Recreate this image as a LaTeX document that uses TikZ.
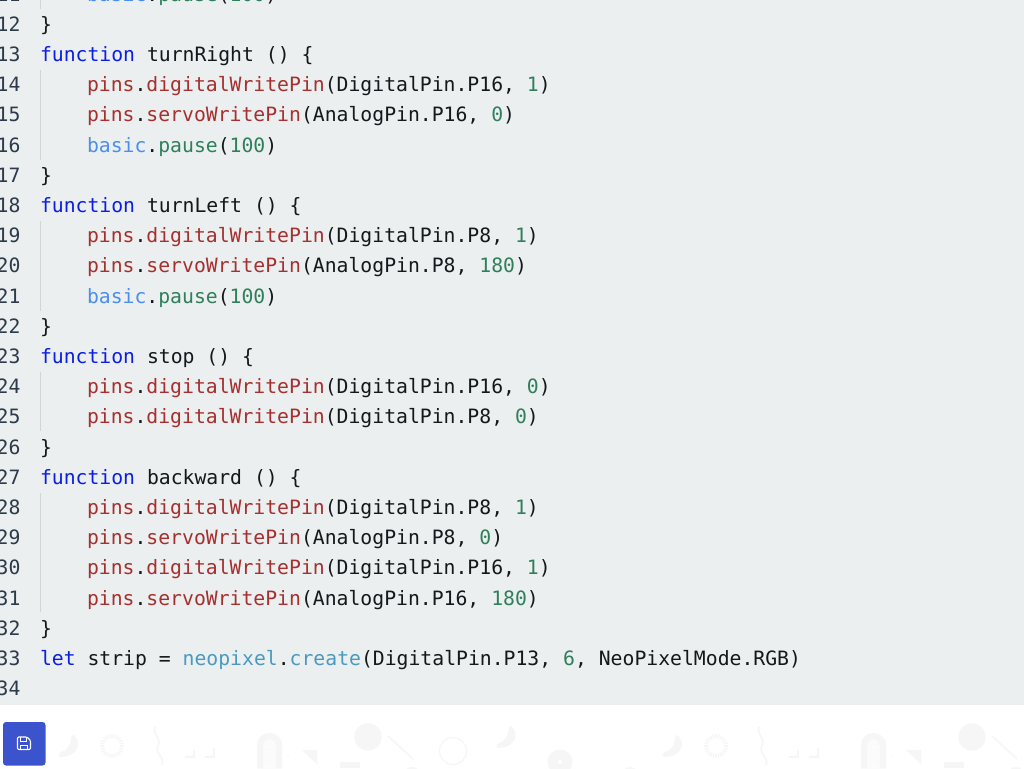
\documentclass[tikz,border=0pt]{standalone}
\usepackage{fontspec}
\setmonofont{DejaVu Sans Mono}
\definecolor{pagebg}{HTML}{ECEFF0}
\definecolor{kw}{HTML}{0B1FE0}
\definecolor{pinc}{HTML}{A5302F}
\definecolor{basicc}{HTML}{4A8FEF}
\definecolor{greenc}{HTML}{2F7F5B}
\definecolor{neoc}{HTML}{4A9ABF}
\definecolor{numc}{HTML}{2C3A4A}
\definecolor{txt}{HTML}{14181C}
\definecolor{guide}{HTML}{D2D4D6}
\definecolor{btn}{HTML}{3B53CD}
\definecolor{wm}{HTML}{F6F6F6}
\definecolor{wmlight}{HTML}{FBFBFB}
\newcommand{\Kw}[1]{\textcolor{kw}{#1}}
\newcommand{\Pn}[1]{\textcolor{pinc}{#1}}
\newcommand{\Ba}[1]{\textcolor{basicc}{#1}}
\newcommand{\Gr}[1]{\textcolor{greenc}{#1}}
\newcommand{\Ne}[1]{\textcolor{neoc}{#1}}
\tikzset{
  code/.style={anchor=base west,inner sep=0pt,outer sep=0pt,text=txt,font=\ttfamily\fontsize{19.75}{20}\selectfont},
  lnum/.style={anchor=base east,inner sep=0pt,outer sep=0pt,text=numc,font=\ttfamily\fontsize{19.75}{20}\selectfont}
}
\newcommand{\LN}[1]{\node[lnum] (n#1) at (20.5,{61.5+30.2*(#1-13)}) {#1};}
\newcommand{\CL}[3]{\node[code] (c#1) at (#2,{61.5+30.2*(#1-13)}) {#3};}
% crescent whose upper tip is at (0,0)
\newcommand{\Crescent}[2]{%
  \fill[wm,shift={(#1,#2)}] (0,-1) .. controls (8,6) and (6,20) .. (-13,21)
     .. controls (-15,21) and (-15,17) .. (-13,16.5)
     .. controls (-6,15) and (-3,9) .. (-2,0) -- cycle;}
\newcommand{\Tile}[1]{%
  \begin{scope}[xshift=#1pt]
    \Crescent{73.5}{736}
    \foreach \aa in {0,15,...,345}
      \draw[wm,line width=1.3pt] (112,746) ++(\aa:8) -- ++(\aa:4);
    \draw[wm,line width=1.6pt] (155,727) .. controls (152,734) and (162,738) .. (158,746)
        .. controls (154,754) and (165,756) .. (162,765);
    \draw[wm,line width=2.6pt] (185,757) -- (194,757) -- (194,750);
    \draw[wm,line width=2.6pt] (205,757) -- (214,757) -- (214,748);
    \fill[wmlight,rounded corners=12pt] (257,790) rectangle (282,733);
    \draw[wm,line width=6pt] (260,768) -- (260,745.5) arc[start angle=180,end angle=360,radius=9.5] -- (279,768);
    \fill[white] (270,747) circle[radius=1.6];
    \fill[white] (270,766) circle[radius=1.6];
    \fill[wm] (288,756) circle[radius=0.8];
    \fill[wm] (302,750) -- (317,750) -- (317,764) -- cycle;
    \fill[wm] (340,762) rectangle (360,768);
    \fill[wm] (368,737) circle[radius=13.7];
    \draw[wm,line width=1.5pt] (388,736) -- (413,759);
    \draw[wm,line width=1.2pt] (453,751) circle[radius=13.5];
    \fill[wm] (412,776) circle[radius=9];
  \end{scope}}
\begin{document}
\begin{tikzpicture}[x=1pt,y=-1pt]
\useasboundingbox (0,0) rectangle (1024,768);
\begin{scope}
\clip (0,0) rectangle (1024,768);
\fill[white] (0,0) rectangle (1024,768);
\Tile{0}
\Tile{604}
\Crescent{511}{727}
\fill[wm] (560,762) circle[radius=12.5];
\fill[white] (560,762) circle[radius=2];
\fill[wm] (630,776) circle[radius=9];
\fill[pagebg] (0,0) rectangle (1024,705);
\foreach \yy/\yb in {70/160,221/311,372/431,493/612}
  \draw[guide,line width=1pt] (40.5,\yy) -- (40.5,\yb);
\draw[guide,line width=1pt] (40.5,0) -- (40.5,9);
\LN{11}\LN{12}\LN{13}\LN{14}\LN{15}\LN{16}\LN{17}\LN{18}\LN{19}\LN{20}\LN{21}\LN{22}
\LN{23}\LN{24}\LN{25}\LN{26}\LN{27}\LN{28}\LN{29}\LN{30}\LN{31}\LN{32}\LN{33}\LN{34}
\CL{11}{87}{\Ba{basic}.\Gr{pause}(\Gr{100})}
\CL{12}{40}{\}}
\CL{13}{40}{\Kw{function} turnRight () \{}
\CL{14}{87}{\Pn{pins}.\Pn{digitalWritePin}(DigitalPin.P16, \Gr{1})}
\CL{15}{87}{\Pn{pins}.\Pn{servoWritePin}(AnalogPin.P16, \Gr{0})}
\CL{16}{87}{\Ba{basic}.\Gr{pause}(\Gr{100})}
\CL{17}{40}{\}}
\CL{18}{40}{\Kw{function} turnLeft () \{}
\CL{19}{87}{\Pn{pins}.\Pn{digitalWritePin}(DigitalPin.P8, \Gr{1})}
\CL{20}{87}{\Pn{pins}.\Pn{servoWritePin}(AnalogPin.P8, \Gr{180})}
\CL{21}{87}{\Ba{basic}.\Gr{pause}(\Gr{100})}
\CL{22}{40}{\}}
\CL{23}{40}{\Kw{function} stop () \{}
\CL{24}{87}{\Pn{pins}.\Pn{digitalWritePin}(DigitalPin.P16, \Gr{0})}
\CL{25}{87}{\Pn{pins}.\Pn{digitalWritePin}(DigitalPin.P8, \Gr{0})}
\CL{26}{40}{\}}
\CL{27}{40}{\Kw{function} backward () \{}
\CL{28}{87}{\Pn{pins}.\Pn{digitalWritePin}(DigitalPin.P8, \Gr{1})}
\CL{29}{87}{\Pn{pins}.\Pn{servoWritePin}(AnalogPin.P8, \Gr{0})}
\CL{30}{87}{\Pn{pins}.\Pn{digitalWritePin}(DigitalPin.P16, \Gr{1})}
\CL{31}{87}{\Pn{pins}.\Pn{servoWritePin}(AnalogPin.P16, \Gr{180})}
\CL{32}{40}{\}}
\CL{33}{40}{\Kw{let} strip = \Ne{neopixel}.\Ne{create}(DigitalPin.P13, \Gr{6}, NeoPixelMode.RGB)}
% save button
\fill[btn,rounded corners=3pt] (3,722) rectangle (45.5,765.5);
\draw[white,line width=1.1pt,rounded corners=1.2pt,line join=round]
  (17.5,737) -- (27,737) -- (30.5,740.5) -- (30.5,749.5) -- (17.5,749.5) -- cycle;
\draw[white,line width=1pt] (20.5,737) -- (20.5,741) -- (26,741) -- (26,737);
\draw[white,line width=1pt] (20.5,749.5) -- (20.5,745) -- (27.5,745) -- (27.5,749.5);
\end{scope}
\end{tikzpicture}
\end{document}
